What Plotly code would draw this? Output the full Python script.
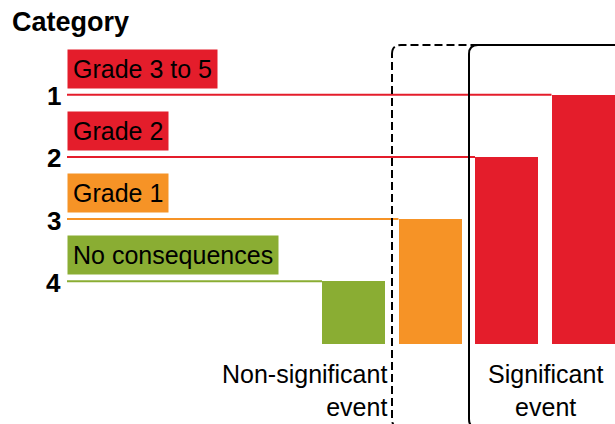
import plotly.graph_objects as go

# ---- data ----
grades = ["No consequences", "Grade 1", "Grade 2", "Grade 3 to 5"]
levels = [1, 2, 3, 4]
category_ids = ["4", "3", "2", "1"]
group_labels = ["Non-significant<br>event", "Significant<br>event"]
title_text = "Category"

# ---- styles ----
colors = ["rgb(138,173,51)", "rgb(246,147,38)", "rgb(228,29,43)", "rgb(228,29,43)"]
FONT = "Arial, Liberation Sans, sans-serif"
W, H = 615, 424

# pixel mapping helpers for layout (axis ranges chosen so that plot fills the page)
X0_PIX, X_UNIT = 353.5, 76.5
Y0_PIX, Y_UNIT = 343.5, 62.2
def dx(p):
    return (p - X0_PIX) / X_UNIT
def px(p):
    return p / W
def py(p):
    return 1 - p / H

bar_w = 63 / X_UNIT
xs = list(range(len(levels)))

fig = go.Figure()
fig.add_trace(go.Bar(x=xs, y=levels, width=bar_w, marker=dict(color=colors, line=dict(width=0)),
                     hoverinfo="skip", showlegend=False))

line_start = dx(67)
for i, (g, v, c) in enumerate(zip(grades, levels, colors)):
    fig.add_trace(go.Scatter(x=[line_start, i - bar_w / 2], y=[v, v], mode="lines",
                             line=dict(color=c, width=2), hoverinfo="skip", showlegend=False))
    fig.add_annotation(x=line_start, y=v + 6 / Y_UNIT, xref="x", yref="y", text=g,
                       showarrow=False, xanchor="left", yanchor="bottom", bgcolor=c,
                       borderpad=5, font=dict(family=FONT, size=25, color="black"))
    fig.add_annotation(x=dx(63), y=v - 1.5 / Y_UNIT, xref="x", yref="y", text="<b>%s</b>" % category_ids[i],
                       showarrow=False, xanchor="right", yanchor="middle",
                       font=dict(family=FONT, size=26, color="black"))

fig.add_annotation(x=px(10), y=py(5), xref="paper", yref="paper", text="<b>%s</b>" % title_text,
                   showarrow=False, xanchor="left", yanchor="top",
                   font=dict(family=FONT, size=27, color="black"))

fig.add_annotation(x=px(389), y=py(358), xref="paper", yref="paper", text=group_labels[0],
                   showarrow=False, xanchor="right", yanchor="top", align="right",
                   font=dict(family=FONT, size=25, color="black"))
fig.add_annotation(x=px(545), y=py(358), xref="paper", yref="paper", text=group_labels[1],
                   showarrow=False, xanchor="center", yanchor="top", align="center",
                   font=dict(family=FONT, size=25, color="black"))

def rounded_rect(x0, y0, x1, y1, r):
    rx, ry = r / W, r / H
    a, b, c, d = px(x0), py(y0), px(x1), py(y1)
    return (f"M {a},{b - ry} Q {a},{b} {a + rx},{b} L {c - rx},{b} Q {c},{b} {c},{b - ry} "
            f"L {c},{d + ry} Q {c},{d} {c - rx},{d} L {a + rx},{d} Q {a},{d} {a},{d + ry} Z")

fig.add_shape(type="path", path=rounded_rect(392, 45, 660, 428, 9), xref="paper", yref="paper",
              line=dict(color="black", width=2, dash="8px,4px"))
fig.add_shape(type="path", path=rounded_rect(469, 45, 680, 428, 9), xref="paper", yref="paper",
              line=dict(color="black", width=2))

fig.update_layout(
    width=W, height=H, margin=dict(l=0, r=0, t=0, b=0),
    paper_bgcolor="white", plot_bgcolor="white",
    xaxis=dict(range=[dx(0), dx(W)], visible=False, fixedrange=True),
    yaxis=dict(range=[(Y0_PIX - H) / Y_UNIT, Y0_PIX / Y_UNIT], visible=False, fixedrange=True),
    bargap=0,
)
fig.write_html("out.html")
